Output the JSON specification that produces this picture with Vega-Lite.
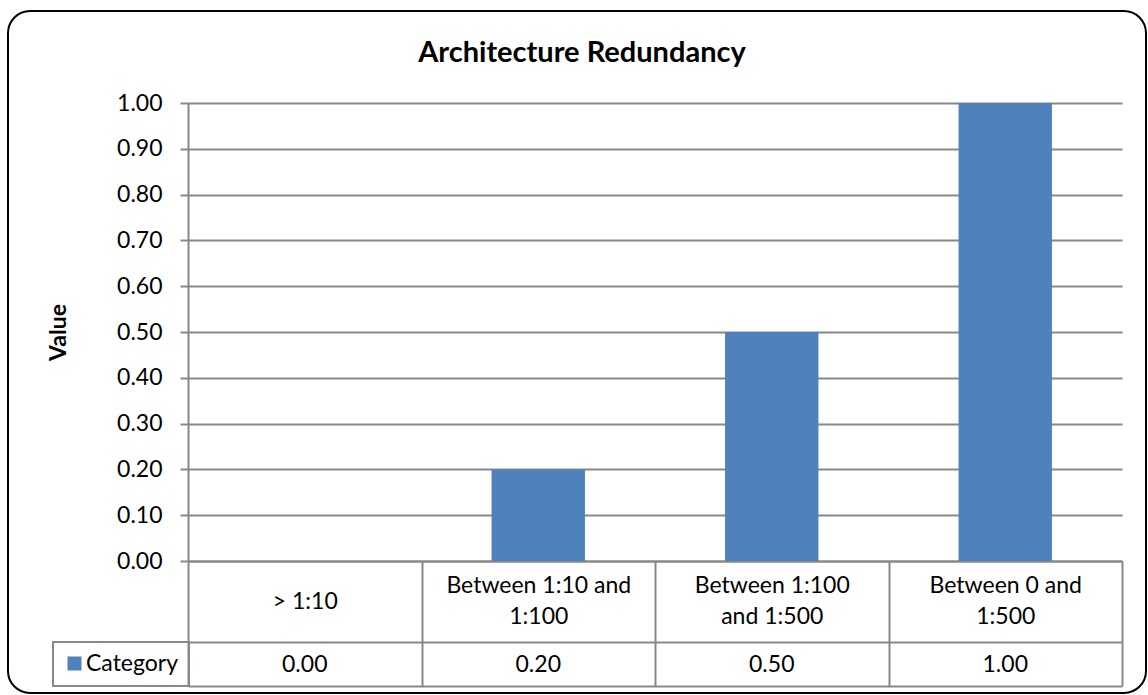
{
  "$schema": "https://vega.github.io/schema/vega-lite/v6.json",
  "width": 1138,
  "height": 682,
  "autosize": {"type": "none"},
  "padding": {"left": 8, "top": 11, "right": 2, "bottom": 2},
  "background": "white",
  "title": {"text": "Architecture Redundancy", "font": "Lato", "fontSize": 29, "fontWeight": "bold", "color": "black", "anchor": "middle", "frame": "group", "offset": -80, "baseline": "alphabetic", "dx": 5},
  "data": {"values": [
    {"category": "> 1:10", "value": 0},
    {"category": "Between 1:10 and 1:100", "value": 0.2},
    {"category": "Between 1:100 and 1:500", "value": 0.5},
    {"category": "Between 0 and 1:500", "value": 1}
  ]},
  "layer": [
    {
      "mark": {"type": "bar", "width": {"band": 0.4}},
      "encoding": {
        "x": {
          "field": "category", "type": "nominal", "sort": null,
          "scale": {"type": "band", "range": [180, 1114], "paddingInner": 0, "paddingOuter": 0},
          "axis": {
            "orient": "bottom", "offset": -132, "title": null,
            "domainColor": "#888888", "domainWidth": 2, "tickColor": "#888888", "tickWidth": 2, "tickBand": "extent", "tickSize": 125,
            "labelPadding": {"condition": {"test": "datum.value == '> 1:10'", "value": -85}, "value": -100.5},
            "labelBaseline": "middle", "labelFontSize": 23, "labelColor": "black",
            "labelLineHeight": 31, "labelAngle": 0, "labelOverlap": false, "labelLimit": 0,
            "labelExpr": "datum.label == 'Between 1:10 and 1:100' ? ['Between 1:10 and', '1:100'] : datum.label == 'Between 1:100 and 1:500' ? ['Between 1:100', 'and 1:500'] : datum.label == 'Between 0 and 1:500' ? ['Between 0 and', '1:500'] : datum.label"
          }
        },
        "y": {
          "field": "value", "type": "quantitative",
          "scale": {"domain": [0, 1], "range": [550, 92], "nice": false},
          "axis": {
            "title": "Value", "titleFontSize": 23, "titleFontWeight": "bold", "titleColor": "black", "titlePadding": 46,
            "format": ".2f", "values": [0, 0.1, 0.2, 0.3, 0.4, 0.5, 0.6, 0.7, 0.8, 0.9, 1],
            "grid": true, "gridColor": "#888888", "gridWidth": 2,
            "domainColor": "#888888", "domainWidth": 2, "tickColor": "#888888", "tickWidth": 2, "tickSize": 8,
            "labelFontSize": 23, "labelColor": "black", "labelPadding": 18, "labelFlush": false, "labelOverlap": false,
            "offset": -180
          }
        },
        "color": {
          "datum": "Category",
          "scale": {"range": ["#4F81BD"]},
          "legend": {
            "title": null, "orient": "none", "legendX": 45, "legendY": 631,
            "symbolType": "square", "symbolSize": 196, "symbolStrokeWidth": 0, "symbolOpacity": 1,
            "labelFontSize": 23, "labelColor": "black", "labelOffset": 0,
            "strokeColor": "#888888", "padding": 10
          }
        }
      }
    },
    {
      "mark": {"type": "point", "opacity": 0},
      "encoding": {
        "x": {
          "field": "value", "type": "ordinal",
          "scale": {"type": "band", "range": [180, 1114], "paddingInner": 0, "paddingOuter": 0},
          "axis": {
            "orient": "bottom", "offset": -51, "title": null,
            "domainColor": "#888888", "domainWidth": 2, "ticks": false, "tickSize": 0,
            "labelPadding": 22, "labelBaseline": "middle", "labelFontSize": 23, "labelColor": "black",
            "labelAngle": 0, "labelExpr": "format(datum.value, '.2f')"
          }
        }
      }
    },
    {
      "mark": {"type": "point", "opacity": 0},
      "encoding": {
        "x": {
          "field": "category", "type": "nominal", "sort": null,
          "scale": {"type": "band", "range": [180, 1114], "paddingInner": 0, "paddingOuter": 0},
          "axis": {
            "orient": "bottom", "offset": -7, "title": null,
            "domainColor": "#888888", "domainWidth": 2, "ticks": false, "labels": false
          }
        }
      }
    }
  ],
  "resolve": {
    "scale": {"x": "independent", "y": "independent"},
    "axis": {"x": "independent", "y": "independent"}
  },
  "config": {
    "font": "Lato",
    "legend": {"strokeWidth": 2},
    "view": {"stroke": "black", "strokeWidth": 2, "cornerRadius": 22}
  }
}
